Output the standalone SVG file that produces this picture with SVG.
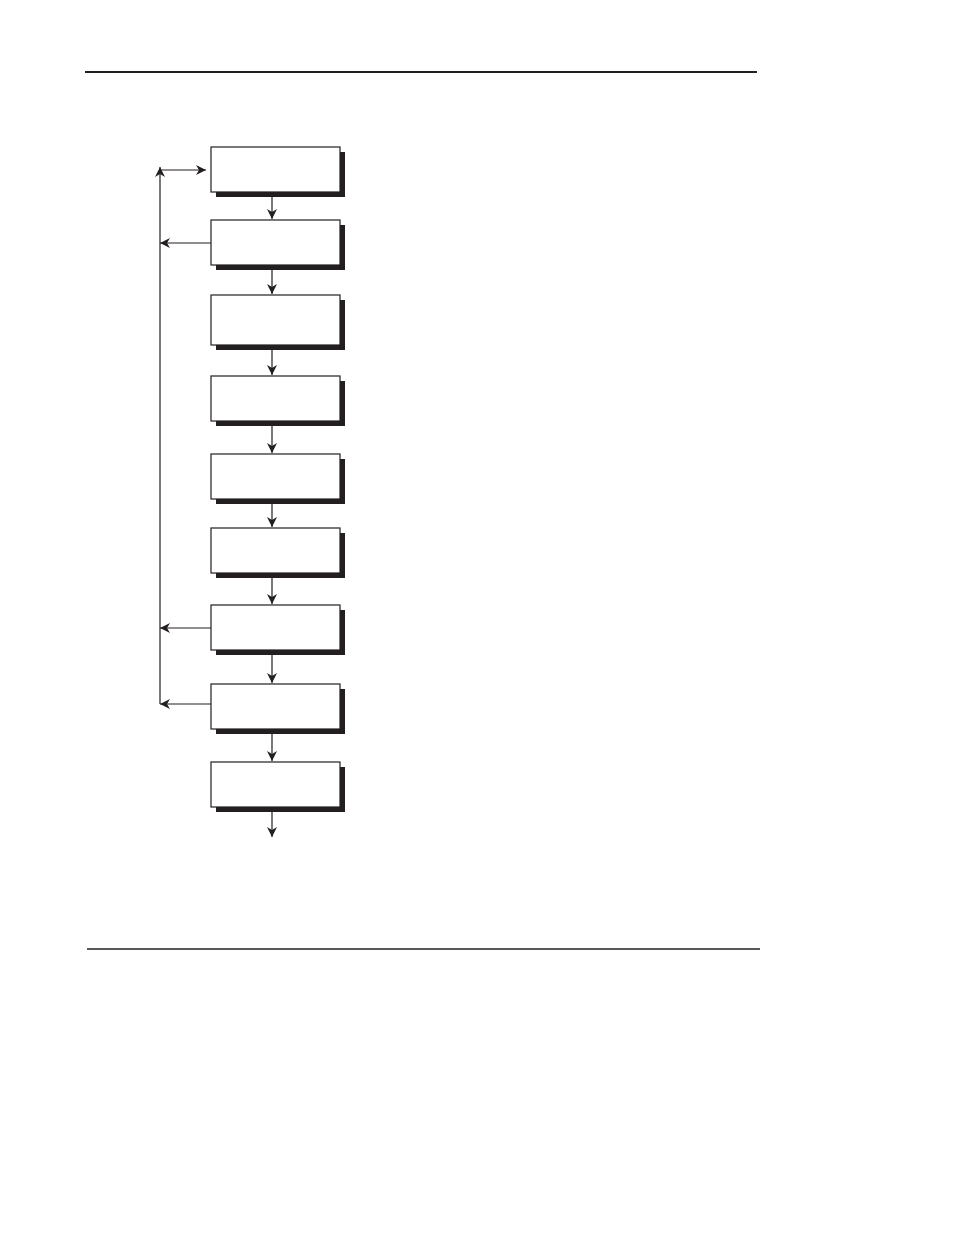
<svg xmlns="http://www.w3.org/2000/svg" width="954" height="1235" viewBox="0 0 954 1235">
<style>
.box{fill:#fff;stroke:#231f20;stroke-width:1.2}
.sh{fill:#231f20}
.ln{stroke:#231f20;stroke-width:1.2;fill:none}
.rule{stroke:#231f20;stroke-width:2}
</style>
<defs>
<marker id="ah" viewBox="0 0 10 10" refX="10" refY="5" markerWidth="10" markerHeight="10" markerUnits="userSpaceOnUse" orient="auto">
<path d="M0,0 L10,5 L0,10 L3,5 Z" fill="#231f20"/>
</marker>
</defs>
<rect width="954" height="1235" fill="#fff"/>
<line class="rule" x1="85" y1="72" x2="757" y2="72"/>
<line class="rule" x1="87" y1="949" x2="760" y2="949" style="stroke-width:1.6"/>
<g id="n1"><rect class="sh" x="216" y="152" width="129" height="45"/><rect class="box" x="211" y="147" width="129" height="45"/></g>
<g id="n2"><rect class="sh" x="216" y="225" width="129" height="45"/><rect class="box" x="211" y="220" width="129" height="45"/></g>
<g id="n3"><rect class="sh" x="216" y="300" width="129" height="50"/><rect class="box" x="211" y="295" width="129" height="50"/></g>
<g id="n4"><rect class="sh" x="216" y="381" width="129" height="45"/><rect class="box" x="211" y="376" width="129" height="45"/></g>
<g id="n5"><rect class="sh" x="216" y="459" width="129" height="45"/><rect class="box" x="211" y="454" width="129" height="45"/></g>
<g id="n6"><rect class="sh" x="216" y="533" width="129" height="45"/><rect class="box" x="211" y="528" width="129" height="45"/></g>
<g id="n7"><rect class="sh" x="216" y="610" width="129" height="45"/><rect class="box" x="211" y="605" width="129" height="45"/></g>
<g id="n8"><rect class="sh" x="216" y="689" width="129" height="45"/><rect class="box" x="211" y="684" width="129" height="45"/></g>
<g id="n9"><rect class="sh" x="216" y="767" width="129" height="45"/><rect class="box" x="211" y="762" width="129" height="45"/></g>
<g id="connectors">
<line class="ln" x1="272" y1="197" x2="272" y2="219" marker-end="url(#ah)"/>
<line class="ln" x1="272" y1="270" x2="272" y2="294" marker-end="url(#ah)"/>
<line class="ln" x1="272" y1="350" x2="272" y2="375" marker-end="url(#ah)"/>
<line class="ln" x1="272" y1="426" x2="272" y2="453" marker-end="url(#ah)"/>
<line class="ln" x1="272" y1="504" x2="272" y2="527" marker-end="url(#ah)"/>
<line class="ln" x1="272" y1="578" x2="272" y2="604" marker-end="url(#ah)"/>
<line class="ln" x1="272" y1="655" x2="272" y2="683" marker-end="url(#ah)"/>
<line class="ln" x1="272" y1="734" x2="272" y2="761" marker-end="url(#ah)"/>
<line class="ln" x1="272" y1="812" x2="272" y2="837" marker-end="url(#ah)"/>
<line class="ln" x1="160" y1="704" x2="160" y2="167" marker-end="url(#ah)"/>
<line class="ln" x1="160" y1="170" x2="206" y2="170" marker-end="url(#ah)"/>
<line class="ln" x1="211" y1="243" x2="160" y2="243" marker-end="url(#ah)"/>
<line class="ln" x1="211" y1="628" x2="160" y2="628" marker-end="url(#ah)"/>
<line class="ln" x1="211" y1="704" x2="160" y2="704" marker-end="url(#ah)"/>
</g>
</svg>
